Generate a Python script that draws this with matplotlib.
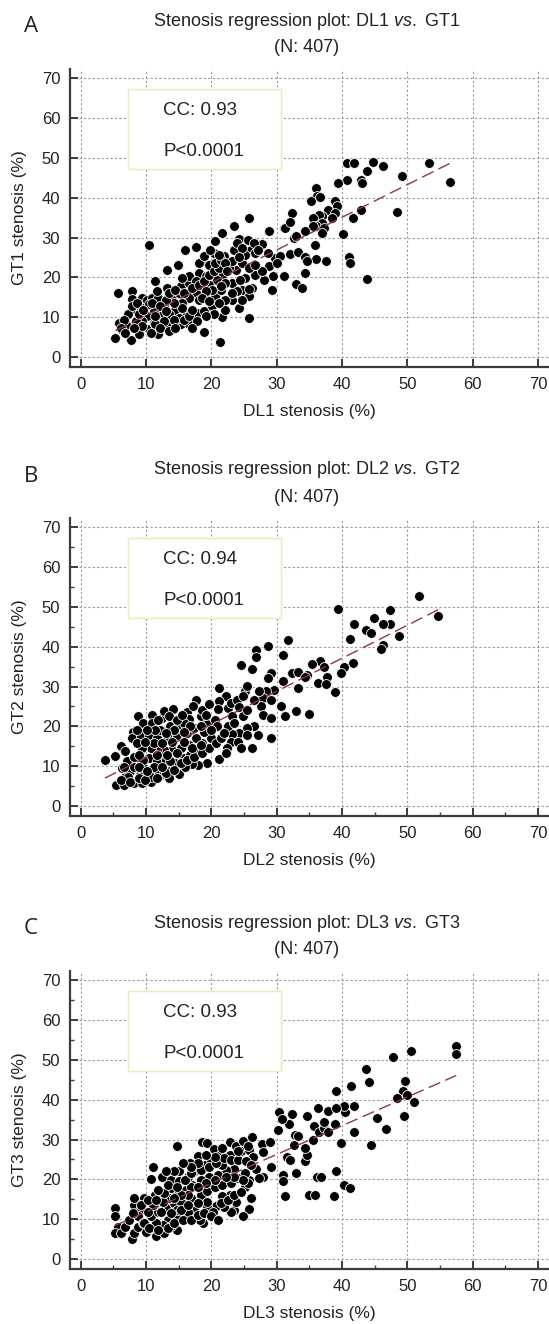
import numpy as np
import matplotlib.pyplot as plt
from matplotlib.patches import Rectangle
from matplotlib.ticker import MultipleLocator

plt.rcParams['font.family'] = ['Liberation Sans', 'DejaVu Sans']
plt.rcParams['mathtext.fontset'] = 'custom'
plt.rcParams['mathtext.rm'] = 'Liberation Sans'
plt.rcParams['mathtext.it'] = 'Liberation Sans:italic'

# (DL %, GT %) pairs
dl1_gt1 = np.array([
    (5.3, 4.8), (7.7, 4.4), (5.7, 16.2), (10.5, 28.2), (7.9, 16.7), (7.9, 14.6), (5.8, 8.6), (6.3, 6.9),
    (7.1, 7.7), (8.4, 11.9), (7.3, 10.7), (9.1, 12.7), (9.4, 14.8), (10.2, 14.4), (10.9, 14.8), (11.4, 19.0),
    (13.2, 21.9), (14.9, 23.0), (15.9, 26.8), (17.7, 27.6), (20.5, 29.2), (21.6, 31.1), (23.5, 33.0), (25.8, 34.8),
    (24.3, 29.7), (25.6, 29.4), (28.8, 31.7), (31.1, 32.3), (27.8, 28.3), (23.5, 26.9), (26.1, 26.9), (18.8, 24.0),
    (20.8, 25.7), (18.8, 6.3), (21.3, 3.8), (25.8, 9.7), (21.7, 10.0), (24.2, 12.3), (11.9, 5.7), (10.4, 7.1),
    (8.9, 6.9), (14.0, 8.2), (15.3, 8.2), (16.5, 8.4), (17.8, 11.1), (18.8, 11.5), (20.1, 12.8), (22.1, 11.9),
    (23.2, 14.4), (24.7, 16.9), (26.2, 17.3), (29.3, 16.9), (31.1, 20.4), (29.5, 20.3), (28.0, 19.3), (26.7, 20.7),
    (25.2, 19.8), (23.7, 21.9), (22.7, 22.3), (21.6, 20.3), (20.9, 19.4), (19.6, 18.2), (18.6, 17.3), (17.6, 16.1),
    (16.5, 14.8), (15.5, 13.6), (14.5, 11.9), (13.5, 10.7), (12.2, 10.3), (12.7, 12.8), (14.0, 15.3), (15.3, 17.8),
    (16.5, 18.6), (18.1, 21.1), (19.6, 23.2), (20.4, 26.1), (21.9, 25.4), (23.2, 24.0), (24.7, 23.6), (26.7, 26.1),
    (25.2, 25.7), (29.8, 24.8), (28.8, 22.8), (27.8, 21.5), (11.9, 14.8), (11.2, 11.9), (10.1, 10.3), (13.2, 17.3),
    (11.7, 16.5), (10.4, 13.2), (16.5, 20.3), (15.5, 19.8), (15.0, 16.1), (17.6, 19.0), (19.1, 20.3), (19.4, 15.3),
    (18.1, 14.4), (20.6, 15.3), (21.4, 16.9), (23.2, 18.6), (22.1, 14.4), (21.1, 13.6), (16.0, 11.1), (15.0, 9.8),
    (13.2, 7.8), (11.2, 8.6), (9.4, 9.0), (8.4, 9.0), (6.6, 9.4), (7.9, 12.8), (12.7, 9.0),
    (6.1, 7.3), (6.8, 6.1), (8.9, 5.7), (9.4, 7.8), (11.4, 8.2), (12.2, 7.3), (13.5, 6.5), (14.2, 9.4),
    (15.8, 9.4), (16.5, 10.3), (17.0, 11.9), (15.5, 12.3), (14.2, 13.6), (13.0, 14.4), (13.5, 16.1), (14.5, 16.9),
    (15.8, 16.1), (17.0, 17.3), (18.1, 18.2), (18.8, 19.0), (19.6, 20.7), (20.4, 21.5), (21.1, 22.3), (20.6, 23.6),
    (21.4, 24.4), (22.1, 23.6), (22.4, 21.5), (22.1, 18.6), (21.4, 17.8), (20.1, 16.9), (19.1, 16.5), (18.6, 14.8),
    (19.6, 14.0), (20.4, 10.7), (19.1, 10.3), (17.8, 9.0), (17.0, 7.3), (14.5, 7.3), (10.7, 6.1), (11.4, 10.3),
    (10.9, 13.6), (12.2, 12.8), (13.0, 11.5), (8.9, 10.7), (8.1, 7.3), (8.6, 13.6), (9.6, 11.9), (18.1, 23.6),
    (18.8, 25.3), (19.8, 26.9), (21.1, 25.7), (23.9, 28.6), (24.7, 27.3), (26.5, 28.6), (27.2, 26.9), (25.7, 22.3),
    (26.7, 23.2), (24.4, 19.4), (23.9, 16.5), (25.7, 15.3), (24.7, 14.4), (23.2, 16.1),
    (40.8, 48.6), (41.9, 48.6), (44.7, 48.9), (46.3, 47.9), (43.9, 46.6), (53.3, 48.6), (49.2, 45.4), (56.5, 43.9),
    (40.8, 44.4), (39.4, 43.7), (42.9, 44.5), (43.1, 43.7), (48.4, 36.3), (42.9, 36.8), (41.7, 34.9), (40.2, 30.9),
    (41.0, 25.2), (41.3, 23.7), (43.9, 19.7), (36.0, 42.4), (36.2, 40.3), (35.2, 39.1), (36.7, 40.2), (38.9, 39.1),
    (39.3, 37.8), (37.8, 37.0), (39.0, 36.1), (38.5, 34.9), (37.0, 35.3), (36.5, 35.7), (35.5, 34.9), (37.0, 33.6),
    (36.0, 32.9), (35.5, 32.8), (34.4, 31.7), (37.2, 32.4), (37.0, 31.1), (32.4, 36.1), (31.2, 32.4), (32.1, 34.0),
    (32.7, 29.8), (33.0, 30.4), (35.9, 28.1), (32.1, 25.8), (33.2, 26.3), (34.3, 25.0), (36.0, 24.6), (37.5, 24.2),
    (34.6, 24.2), (30.5, 25.4), (31.1, 20.4), (34.4, 21.2), (32.9, 18.3), (33.8, 17.4), (28.7, 26.2), (24.2, 25.2),
    (30.0, 23.5), (25.8, 17.2),
])

dl2_gt2 = np.array([
    (3.7, 11.6), (5.3, 12.6), (6.1, 15.1), (5.4, 5.3), (6.6, 5.3), (8.1, 5.7), (9.4, 5.7), (10.7, 6.0),
    (6.8, 7.4), (7.6, 8.7), (6.3, 9.5), (7.1, 11.2), (8.1, 12.4), (8.0, 18.7), (7.8, 17.1), (8.7, 22.5),
    (9.6, 20.8), (10.9, 22.9), (12.5, 22.1), (12.8, 23.8), (14.1, 24.4), (10.9, 20.8), (16.3, 23.5), (16.6, 21.8),
    (17.7, 26.6), (17.2, 25.0), (18.4, 22.5), (19.4, 20.7), (21.2, 29.7), (22.2, 27.6), (21.1, 26.3), (21.0, 24.4),
    (20.6, 21.7), (22.5, 24.6), (23.0, 25.9), (23.9, 26.5), (24.3, 24.8), (25.2, 28.8), (25.5, 30.1), (24.5, 35.3),
    (26.2, 34.3), (28.6, 40.2), (26.9, 39.2), (26.9, 37.5), (31.8, 41.8), (31.0, 37.8), (29.1, 33.3), (28.6, 32.2),
    (30.9, 31.5), (32.3, 33.4), (33.2, 33.6), (33.3, 29.7), (34.7, 33.0), (29.6, 29.2), (28.4, 28.8), (27.9, 27.1),
    (29.1, 26.5), (27.6, 25.2), (27.9, 22.9), (29.1, 22.1), (30.6, 25.2), (31.3, 22.5), (33.0, 23.9), (34.9, 23.1),
    (29.1, 17.1), (26.2, 14.5), (27.1, 17.9), (26.6, 20.0), (25.4, 19.6), (24.3, 18.3), (23.2, 18.1), (22.5, 20.0),
    (23.0, 16.0), (24.0, 16.0), (22.4, 14.5), (21.2, 11.8), (22.2, 13.3), (19.4, 10.8), (18.0, 10.3), (17.0, 10.6),
    (15.0, 8.1), (13.7, 8.9), (12.2, 7.8), (11.4, 9.1), (10.7, 7.4), (9.0, 7.8), (9.6, 9.9), (10.4, 12.0),
    (11.7, 11.2), (13.0, 11.6), (14.4, 10.8), (15.8, 12.0), (16.8, 12.9), (17.8, 13.7), (18.6, 15.8), (19.9, 17.1),
    (17.6, 17.1), (16.6, 15.4), (15.3, 14.5), (14.0, 14.1), (12.7, 14.1), (11.7, 14.1), (10.7, 14.5), (9.4, 14.5),
    (9.2, 17.5), (10.4, 17.9), (11.7, 17.1), (13.2, 17.5), (14.8, 17.9), (16.3, 18.3), (17.3, 19.6), (13.7, 20.0),
    (14.8, 19.6), (12.2, 19.2), (15.8, 20.8), (18.9, 18.7), (11.2, 15.8), (8.1, 9.9), (7.3, 7.4), (13.5, 7.0),
    (15.9, 9.9), (9.6, 11.6),
    (6.1, 6.6), (7.6, 6.1), (8.9, 7.0), (9.9, 6.6), (11.7, 7.0), (13.0, 8.2), (14.3, 9.1), (11.2, 9.9),
    (12.5, 9.9), (13.7, 11.2), (15.3, 10.8), (16.3, 11.6), (17.3, 12.4), (18.6, 13.3), (19.6, 14.5), (20.7, 15.8),
    (21.4, 17.1), (21.9, 18.3), (20.9, 20.0), (19.9, 19.2), (18.4, 20.0), (16.8, 20.0), (15.8, 18.7), (14.3, 19.2),
    (13.0, 18.3), (11.4, 19.2), (10.2, 19.2), (8.6, 19.2), (8.6, 15.8), (9.9, 16.2), (12.5, 15.8), (14.0, 16.2),
    (15.8, 16.2), (17.1, 14.5), (18.4, 15.4), (13.2, 12.9), (14.8, 13.3), (11.7, 12.9), (8.9, 12.9), (6.8, 13.7),
    (6.6, 9.9), (8.9, 9.9), (10.2, 8.7), (11.9, 21.7), (13.5, 22.5), (14.8, 21.7), (15.5, 22.9), (18.6, 24.2),
    (19.6, 25.5), (19.1, 22.9), (23.2, 22.5), (24.8, 22.5), (25.5, 24.2), (26.6, 26.7), (27.3, 28.8), (24.8, 27.6),
    (23.5, 20.8), (25.5, 17.9), (24.5, 14.5),
    (51.8, 52.8), (54.7, 47.8), (47.3, 49.1), (47.4, 45.7), (46.3, 45.7), (44.9, 47.1), (43.7, 44.2), (44.5, 43.4),
    (41.8, 45.7), (41.2, 41.9), (48.8, 42.7), (46.3, 40.5), (46.0, 39.5), (39.4, 49.5), (41.7, 35.9), (40.3, 35.0),
    (39.9, 33.5), (39.0, 28.7), (37.7, 32.5), (36.7, 36.5), (35.4, 35.6), (37.2, 34.9), (36.4, 30.8), (37.5, 30.6),
    (34.4, 32.5),
])

dl3_gt3 = np.array([
    (5.3, 12.8), (5.3, 10.7), (5.7, 8.1), (5.2, 6.5), (6.2, 6.5), (7.8, 5.0), (8.2, 6.6), (8.7, 8.1),
    (8.2, 13.6), (8.1, 15.3), (9.7, 15.3), (9.0, 12.3), (8.7, 10.7), (9.5, 9.0), (10.0, 6.9), (11.5, 5.8),
    (12.8, 6.6), (14.8, 7.3), (11.0, 23.2), (10.7, 20.1), (11.3, 16.1), (12.4, 20.7), (13.8, 19.9), (15.1, 22.2),
    (14.8, 28.3), (16.7, 24.2), (17.9, 22.6), (18.5, 29.5), (19.4, 29.1), (20.4, 27.6), (21.5, 26.4), (21.2, 24.5),
    (22.8, 29.3), (23.7, 28.3), (24.8, 29.7), (26.2, 30.6), (24.6, 27.0), (22.8, 26.2), (25.7, 27.4), (26.3, 25.7),
    (27.7, 28.9), (27.9, 26.8), (28.9, 29.3), (29.1, 23.2), (27.9, 20.7), (26.8, 22.6), (27.3, 20.3), (25.8, 19.9),
    (25.1, 18.0), (26.1, 15.3), (25.8, 12.5), (24.8, 10.7), (23.5, 12.2), (23.0, 11.9), (22.0, 13.0), (23.8, 14.4),
    (22.8, 16.1), (21.7, 15.7), (20.7, 13.2), (19.4, 13.3), (18.7, 9.0), (18.2, 9.8), (17.4, 12.3), (16.4, 11.7),
    (14.8, 10.7), (13.3, 9.8), (12.6, 8.6), (11.5, 9.0), (10.8, 10.7), (11.8, 11.9), (13.1, 12.8), (14.3, 14.0),
    (15.4, 14.4), (16.9, 15.3), (18.4, 16.1), (19.4, 17.0), (20.5, 18.0), (21.7, 18.6), (23.0, 19.0), (24.0, 20.3),
    (25.1, 21.6), (23.5, 22.6), (22.2, 22.4), (21.0, 21.1), (19.7, 20.7), (18.4, 19.9), (17.1, 18.6), (16.1, 17.4),
    (14.8, 16.5), (13.6, 15.3), (12.6, 14.4), (13.8, 17.8), (15.1, 19.5), (16.4, 20.7), (17.4, 22.0), (19.0, 23.7),
    (20.0, 24.9), (17.9, 25.8), (16.9, 18.2), (19.4, 14.4), (14.8, 12.3), (13.8, 8.2), (11.0, 13.6), (10.3, 11.9),
    (21.7, 23.7), (30.9, 21.1), (31.0, 19.5), (31.3, 15.9), (35.0, 16.1), (35.9, 16.1), (33.0, 21.6), (36.2, 20.5),
    (36.8, 20.7), (31.6, 25.6), (32.0, 24.9), (34.4, 24.5), (34.7, 26.2), (34.4, 27.8), (32.7, 28.7), (32.8, 31.2),
    (33.3, 31.0), (34.6, 36.0), (31.9, 34.0), (32.3, 36.3), (30.4, 36.8), (30.8, 35.1), (30.2, 32.5), (36.3, 37.9),
    (35.7, 33.3), (36.5, 32.0), (37.3, 32.9), (37.8, 37.1), (37.9, 32.0),
    (6.7, 8.1), (7.4, 9.8), (8.0, 11.5), (9.2, 13.6), (10.3, 14.9), (9.7, 9.0), (10.5, 7.7), (11.8, 7.3),
    (13.3, 7.7), (14.3, 9.0), (15.6, 9.8), (16.9, 9.8), (17.9, 11.1), (18.9, 11.5), (20.2, 11.9), (21.5, 14.0),
    (22.5, 14.9), (23.5, 16.1), (24.5, 16.9), (25.6, 19.0), (24.8, 19.9), (23.5, 20.7), (22.2, 20.7), (20.5, 19.9),
    (19.2, 19.0), (17.9, 18.2), (16.4, 16.1), (15.4, 16.1), (14.3, 15.3), (12.8, 16.5), (11.8, 17.4), (11.5, 14.9),
    (12.3, 11.9), (13.8, 11.5), (15.4, 12.3), (16.4, 13.6), (17.9, 14.0), (15.9, 19.9), (16.9, 21.6), (18.4, 22.4),
    (19.7, 23.2), (20.7, 24.1), (22.0, 25.3), (23.0, 24.9), (24.0, 24.9), (25.3, 24.5), (26.1, 23.7), (24.0, 27.0),
    (25.6, 28.3), (21.7, 27.8), (20.5, 25.7), (19.2, 26.2), (17.9, 24.1), (16.9, 23.2), (15.6, 24.1), (14.3, 22.0),
    (13.1, 22.0), (13.3, 18.6), (14.8, 18.2), (19.9, 10.7), (21.0, 9.8),
    (57.5, 53.5), (57.5, 51.5), (50.6, 52.3), (47.8, 50.8), (43.7, 47.6), (44.1, 44.4), (41.4, 43.4), (39.1, 42.2),
    (49.7, 44.8), (49.3, 42.2), (48.4, 40.3), (50.0, 41.2), (51.0, 39.3), (49.5, 35.9), (46.8, 32.7), (45.3, 35.3),
    (44.4, 28.6), (41.9, 31.8), (41.9, 38.3), (40.5, 37.0), (40.3, 38.5), (39.1, 38.0), (37.2, 34.5), (38.9, 33.9),
    (39.8, 29.2), (35.5, 29.9), (38.8, 15.9), (40.3, 18.6), (41.3, 17.8), (39.1, 22.1),
])

letters = ['A', 'B', 'C']
dl_names = ['DL1', 'DL2', 'DL3']
gt_names = ['GT1', 'GT2', 'GT3']
cc_values = ['0.93', '0.94', '0.93']
n_cases = 407
panels = [dl1_gt1, dl2_gt2, dl3_gt3]

W, H = 549, 1324
fig = plt.figure(figsize=(W / 100, H / 100), dpi=100)
tops = [69, 518, 971]
spine_col = '#3c3c3c'
txt_col = '#222222'

for i, pts in enumerate(panels):
    top = tops[i]
    bottom = top + 298
    ax = fig.add_axes([70 / W, 1 - bottom / H, 479 / W, 298 / H])
    x, y = pts[:, 0], pts[:, 1]

    ax.scatter(x, y, s=50, c='black', edgecolors='white', linewidths=0.6, zorder=3)
    m, b = np.polyfit(x, y, 1)
    xs = np.array([x.min(), x.max()])
    ax.plot(xs, m * xs + b, ls=(0, (9, 4)), color='#8c3b3b', lw=1.0, zorder=4)

    ax.set_xlim(-1.65, 71.7)
    ax.set_ylim(-2.5, 72.3)
    ax.set_xticks(range(0, 71, 10))
    ax.set_yticks(range(0, 71, 10))
    if i > 0:
        ax.xaxis.set_minor_locator(MultipleLocator(5))
        ax.yaxis.set_minor_locator(MultipleLocator(5))
    ax.grid(True, which='major', linestyle=(0, (2, 2)), color='#9a9a9a', linewidth=0.8)
    ax.set_axisbelow(True)
    for s in ['top', 'right']:
        ax.spines[s].set_visible(False)
    for s in ['left', 'bottom']:
        ax.spines[s].set_linewidth(1.6)
        ax.spines[s].set_color(spine_col)
    ax.tick_params(which='major', direction='in', length=6, width=1.4, color=spine_col,
                   labelsize=12, pad=7, labelcolor=txt_col)
    ax.tick_params(which='minor', direction='in', length=3, width=1.0, color=spine_col)

    ax.set_xlabel(f'{dl_names[i]} stenosis (%)', fontsize=12.5, color=txt_col, va='center')
    ax.set_ylabel(f'{gt_names[i]} stenosis (%)', fontsize=12.5, color=txt_col, va='center')
    ax.xaxis.set_label_coords(0.5, -0.148)
    ax.yaxis.set_label_coords(-0.105, 0.5)

    ax.add_patch(Rectangle((7.2, 47.2), 23.4, 20, facecolor='white', edgecolor='#eeeab8',
                           lw=1.0, zorder=5))
    ax.text(12.6, 62, f'CC: {cc_values[i]}', fontsize=13.5, ha='left', va='center', zorder=6, color=txt_col)
    ax.text(12.6, 51.6, 'P<0.0001', fontsize=13.5, ha='left', va='center', zorder=6, color=txt_col)

    fig.text(307 / W, 1 - (top - 48) / H,
             f'Stenosis regression plot: {dl_names[i]} $\\mathit{{vs.}}$ {gt_names[i]}',
             ha='center', va='center', fontsize=13, color=txt_col)
    fig.text(307 / W, 1 - (top - 21) / H, f'(N: {n_cases})',
             ha='center', va='center', fontsize=13, color=txt_col)
    fig.text(24 / W, 1 - (top - 42) / H, letters[i], ha='left', va='center',
             fontsize=16, family=['Open Sans', 'DejaVu Sans'], color=txt_col)

fig.savefig('out.png', dpi=100)
